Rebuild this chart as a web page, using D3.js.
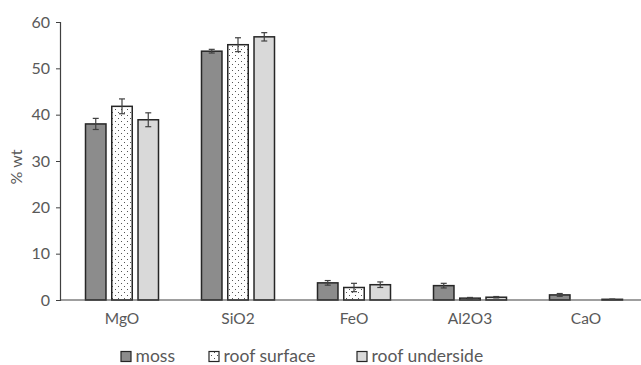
<!DOCTYPE html>
<html><head><meta charset="utf-8">
<script src="https://cdn.jsdelivr.net/npm/d3@7"></script>
<style>body{margin:0;background:#fff}</style>
</head><body>
<svg id="c" width="641" height="365"></svg>
<script>
const categories = ["MgO","SiO2","FeO","Al2O3","CaO"];
const seriesNames = ["moss","roof surface","roof underside"];
const moss = [38.0, 53.7, 3.7, 3.1, 1.1];
const mossErr = [1.2, 0.4, 0.5, 0.5, 0.3];
const roofSurface = [41.8, 55.1, 2.7, 0.4, 0];
const roofSurfaceErr = [1.6, 1.5, 0.9, 0.15, 0];
const roofUnderside = [38.9, 56.8, 3.3, 0.6, 0.15];
const roofUndersideErr = [1.5, 0.9, 0.6, 0.15, 0.05];
const yTicks = [0,10,20,30,40,50,60];

const series = [
  {name: seriesNames[0], values: moss, err: mossErr, fill: "#8c8c8c"},
  {name: seriesNames[1], values: roofSurface, err: roofSurfaceErr, fill: "url(#dots)"},
  {name: seriesNames[2], values: roofUnderside, err: roofUndersideErr, fill: "#d9d9d9"}
];

const svg = d3.select("#c");
const font = "Lato, 'Open Sans', sans-serif";
const textColor = "#595959";

const defs = svg.append("defs");
const pat = defs.append("pattern").attr("id","dots").attr("patternUnits","userSpaceOnUse")
  .attr("width",6).attr("height",6);
pat.append("rect").attr("width",6).attr("height",6).attr("fill","#fff");
pat.append("rect").attr("x",1).attr("y",1).attr("width",1).attr("height",1).attr("fill","#555");
pat.append("rect").attr("x",4).attr("y",4).attr("width",1).attr("height",1).attr("fill","#555");

const y = d3.scaleLinear().domain([0,60]).range([300,22]);
const x0 = d3.scaleBand().domain(categories).range([64,644]).paddingInner(0).paddingOuter(0);
const x1 = d3.scaleBand().domain(seriesNames).range([x0.bandwidth()/2-36.5, x0.bandwidth()/2+36.5]).paddingInner(0.22).paddingOuter(0);

// y axis
const yAxis = svg.append("g").attr("transform","translate(60,0)")
  .call(d3.axisLeft(y).tickValues(yTicks).tickSize(4).tickPadding(6));
yAxis.select(".domain").attr("stroke","#404040").attr("stroke-width",1.2);
yAxis.selectAll(".tick line").attr("stroke","#404040");
yAxis.selectAll("text").attr("font-family",font).attr("font-size",16).attr("fill",textColor);

// bars
const g = svg.append("g");
series.forEach(s => {
  categories.forEach((c,i) => {
    const v = s.values[i];
    const bx = x0(c) + x1(s.name);
    const bw = x1.bandwidth();
    if (v > 0) {
      g.append("rect").attr("x",bx).attr("y",y(v)).attr("width",bw).attr("height",y(0)-y(v))
        .attr("fill",s.fill).attr("stroke","#262626").attr("stroke-width",1.5);
    }
    const e = s.err[i];
    if (v > 0 && e > 0) {
      const cx = bx + bw/2;
      const eg = g.append("g").attr("stroke","#404040").attr("stroke-width",1.2);
      eg.append("line").attr("x1",cx).attr("x2",cx).attr("y1",y(v+e)).attr("y2",y(Math.max(0,v-e)));
      eg.append("line").attr("x1",cx-3).attr("x2",cx+3).attr("y1",y(v+e)).attr("y2",y(v+e));
      eg.append("line").attr("x1",cx-3).attr("x2",cx+3).attr("y1",y(Math.max(0,v-e))).attr("y2",y(Math.max(0,v-e)));
    }
  });
});

// x axis
const xAxis = svg.append("g").attr("transform","translate(0,300)")
  .call(d3.axisBottom(x0).tickSize(0).tickPadding(13));
xAxis.select(".domain").attr("d","M60,0H641").attr("stroke","#404040").attr("stroke-width",1.2);
xAxis.selectAll("text").attr("font-family",font).attr("font-size",15.5).attr("fill",textColor);

// y label
svg.append("text").attr("transform","translate(22,167) rotate(-90)").attr("text-anchor","middle")
  .attr("font-family",font).attr("font-size",16).attr("fill",textColor).text("% wt");

// legend
const legX = [121, 209, 357];
const lg = svg.append("g");
series.forEach((s,i) => {
  lg.append("rect").attr("x",legX[i]).attr("y",351.5).attr("width",10).attr("height",10)
    .attr("fill",s.fill).attr("stroke","#262626").attr("stroke-width",1.2);
  lg.append("text").attr("x",legX[i]+14.5).attr("y",362).attr("font-family",font)
    .attr("font-size",17.5).attr("fill",textColor).text(s.name);
});
</script>
</body></html>
